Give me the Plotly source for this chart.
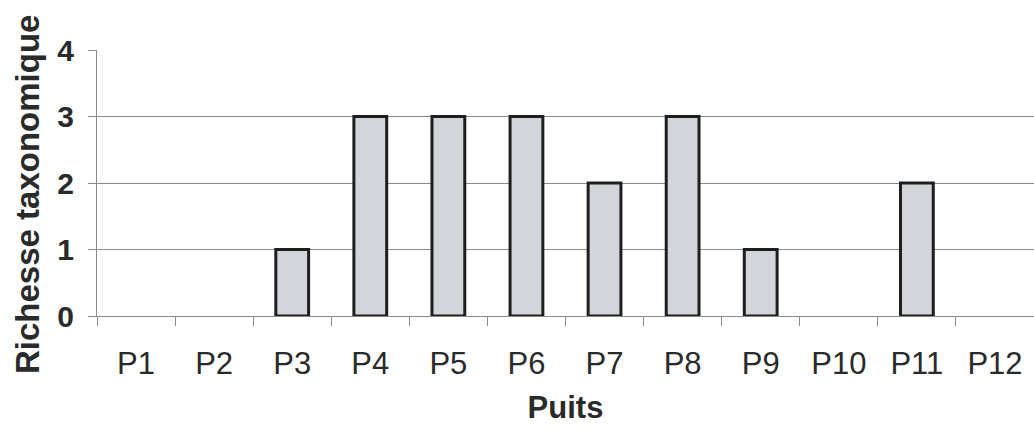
import plotly.graph_objects as go

categories = ["P1", "P2", "P3", "P4", "P5", "P6", "P7", "P8", "P9", "P10", "P11", "P12"]
richesse = [0, 0, 1, 3, 3, 3, 2, 3, 1, 0, 2, 0]
y_ticks = [0, 1, 2, 3, 4]

fig = go.Figure()
fig.add_trace(go.Bar(
    x=categories, y=richesse,
    marker=dict(color="#d2d5d9",
                line=dict(color="#1e1e1e", width=[3 if v > 0 else 0 for v in richesse])),
    width=0.42,
))

fig.update_layout(
    width=1034, height=444,
    margin=dict(l=97, r=0, t=50, b=128),
    plot_bgcolor="white", paper_bgcolor="white",
    showlegend=False,
    font=dict(family="Arial, Liberation Sans", color="#2a2a2a"),
)
fig.update_xaxes(
    showline=True, linecolor="#8a8a8a", linewidth=1,
    ticks="outside", tickson="boundaries", ticklen=9, tickcolor="#8a8a8a",
    tickfont=dict(size=31, color="#2a2a2a"),
    ticklabelstandoff=20,
    title=dict(text="<b>Puits</b>", font=dict(size=31), standoff=16),
    showgrid=False,
)
fig.update_yaxes(
    range=[0, 4], tickvals=y_ticks,
    showline=True, linecolor="#8a8a8a", linewidth=1,
    ticks="outside", ticklen=8, tickcolor="#8a8a8a",
    gridcolor="#8a8a8a", gridwidth=1,
    tickfont=dict(size=30, color="#2a2a2a", weight="bold"),
    ticklabelstandoff=8,
    zeroline=False,
)
fig.add_annotation(
    text="<b>Richesse taxonomique</b>", textangle=-90,
    xref="paper", yref="paper", x=-0.0736, y=0.455,
    xanchor="center", yanchor="middle", showarrow=False,
    font=dict(size=33, color="#2a2a2a"),
)
fig.write_html("out.html")
